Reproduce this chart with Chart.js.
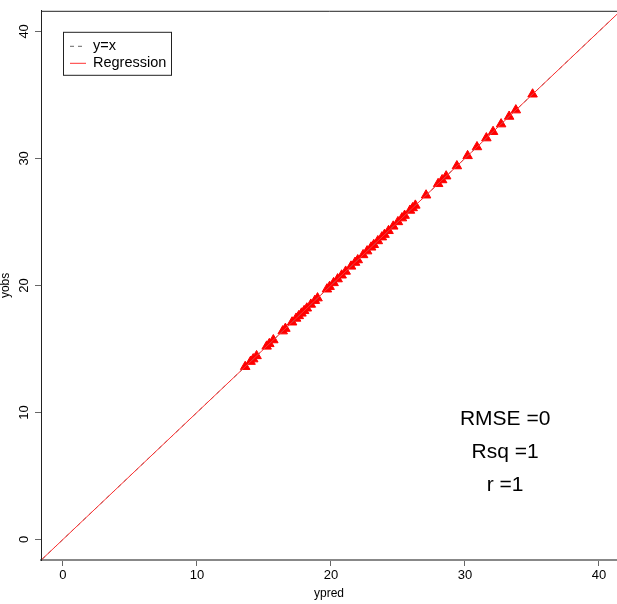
<!DOCTYPE html>
<html>
<head>
<meta charset="utf-8">
<script src="https://cdn.jsdelivr.net/npm/chart.js@4"></script>
<style>
  body { margin: 0; background: #fff; }
  #chart { display: block; }
</style>
</head>
<body>
<canvas id="chart" width="617" height="604"></canvas>
<script>
const ypred = [13.6, 14.0, 14.2, 14.45, 15.2, 15.4, 15.7, 16.4, 16.6, 17.1, 17.4, 17.6, 17.8, 18.0,
  18.2, 18.5, 18.8, 19.0, 19.7, 19.9, 20.2, 20.5, 20.8, 21.1, 21.5, 21.8, 22.0, 22.4, 22.7, 23.0,
  23.2, 23.5, 23.8, 24.0, 24.3, 24.65, 25.0, 25.3, 25.5, 25.9, 26.1, 26.3, 27.1, 28.0, 28.3, 28.6,
  29.4, 30.2, 30.9, 31.6, 32.1, 32.7, 33.3, 33.8, 35.05];
const yobs = [13.6, 14.0, 14.2, 14.45, 15.2, 15.4, 15.7, 16.4, 16.6, 17.1, 17.4, 17.6, 17.8, 18.0,
  18.2, 18.5, 18.8, 19.0, 19.7, 19.9, 20.2, 20.5, 20.8, 21.1, 21.5, 21.8, 22.0, 22.4, 22.7, 23.0,
  23.2, 23.5, 23.8, 24.0, 24.3, 24.65, 25.0, 25.3, 25.5, 25.9, 26.1, 26.3, 27.1, 28.0, 28.3, 28.6,
  29.4, 30.2, 30.9, 31.6, 32.1, 32.7, 33.3, 33.8, 35.05];
const xTicks = [0, 10, 20, 30, 40];
const yTicks = [0, 10, 20, 30, 40];
const lineEnds = [-5, 50];
const stats = ["RMSE =0", "Rsq =1", "r =1"];
const statsX = 33;
const statsY = [9.5, 6.85, 4.25];

const FONT = "'Liberation Sans', Arial, sans-serif";

const points = ypred.map((v, i) => ({ x: v, y: yobs[i] }));
const diag = lineEnds.map((v) => ({ x: v, y: v }));

// frame, legend box and stats text, drawn on top
const extras = {
  id: "extras",
  afterDraw(chart) {
    const c = chart.ctx;
    const area = chart.chartArea;
    const xs = chart.scales.x;
    const ys = chart.scales.y;

    c.save();
    c.strokeStyle = "#222";
    c.lineWidth = 1;
    c.beginPath();
    c.moveTo(area.left + 0.5, area.bottom);
    c.lineTo(area.left + 0.5, area.top + 0.5);
    c.lineTo(area.right + 2, area.top + 0.5);
    c.stroke();

    // legend
    const lx = area.left + 22;
    const ly = area.top + 21;
    c.fillStyle = "#fff";
    c.fillRect(lx, ly, 108, 43);
    c.strokeStyle = "#222";
    c.strokeRect(lx + 0.5, ly + 0.5, 108, 43);
    c.font = "14.5px " + FONT;
    c.textBaseline = "middle";
    c.textAlign = "left";
    const lines = chart.data.datasets.filter((d) => d.showLine);
    lines.forEach((d, i) => {
      const yy = ly + 14 + i * 17;
      c.strokeStyle = d.borderColor;
      c.setLineDash(d.borderDash || []);
      c.beginPath();
      c.moveTo(lx + 7, yy + 0.5);
      c.lineTo(lx + 23, yy + 0.5);
      c.stroke();
      c.setLineDash([]);
      c.fillStyle = "#000";
      c.fillText(d.label, lx + 30, yy);
    });

    // stats
    c.font = "21px " + FONT;
    c.textAlign = "center";
    c.fillStyle = "#000";
    stats.forEach((s, i) => {
      c.fillText(s, xs.getPixelForValue(statsX), ys.getPixelForValue(statsY[i]));
    });
    c.restore();
  },
};

new Chart(document.getElementById("chart"), {
  type: "scatter",
  data: {
    datasets: [
      {
        label: "y=x",
        data: diag,
        showLine: true,
        borderColor: "#666",
        borderDash: [4, 4],
        borderWidth: 1,
        pointRadius: 0,
        order: 2,
      },
      {
        label: "Regression",
        data: diag,
        showLine: true,
        borderColor: "rgb(255,50,50)",
        borderWidth: 1,
        pointRadius: 0,
        order: 1,
      },
      {
        label: "obs",
        data: points,
        pointStyle: "triangle",
        pointRadius: 5.5,
        backgroundColor: "#ff0000",
        borderColor: "#ff0000",
        borderWidth: 1,
        order: 3,
      },
    ],
  },
  options: {
    responsive: false,
    animation: false,
    devicePixelRatio: 1,
    layout: { autoPadding: false, padding: { top: 9, right: 0, left: 0, bottom: 0 } },
    plugins: { legend: { display: false }, tooltip: { enabled: false } },
    scales: {
      x: {
        type: "linear",
        min: -1.64,
        max: 41.35,
        afterFit(s) { s.height = 44; },
        afterBuildTicks(s) { s.ticks = xTicks.map((v) => ({ value: v })); },
        grid: { drawOnChartArea: false, drawTicks: true, tickLength: 6, color: "#666" },
        border: { display: true, color: "#888", width: 2 },
        ticks: { color: "#000", font: { family: FONT, size: 13 }, padding: 2, includeBounds: false },
        title: { display: true, text: "ypred", color: "#000", font: { family: FONT, size: 12 }, padding: { top: 0, bottom: 3 } },
      },
      y: {
        type: "linear",
        min: -1.62,
        max: 41.62,
        afterFit(s) { s.width = 41; },
        afterBuildTicks(s) { s.ticks = yTicks.map((v) => ({ value: v })); },
        grid: { drawOnChartArea: false, drawTicks: true, tickLength: 6, color: "#666" },
        border: { display: true, color: "#222", width: 1 },
        ticks: { color: "#000", font: { family: FONT, size: 13 }, padding: 3, minRotation: 90, maxRotation: 90, crossAlign: "center", includeBounds: false },
        title: { display: true, text: "yobs", color: "#000", font: { family: FONT, size: 12, lineHeight: 1 }, padding: 0 },
      },
    },
  },
  plugins: [extras],
});
</script>
</body>
</html>
